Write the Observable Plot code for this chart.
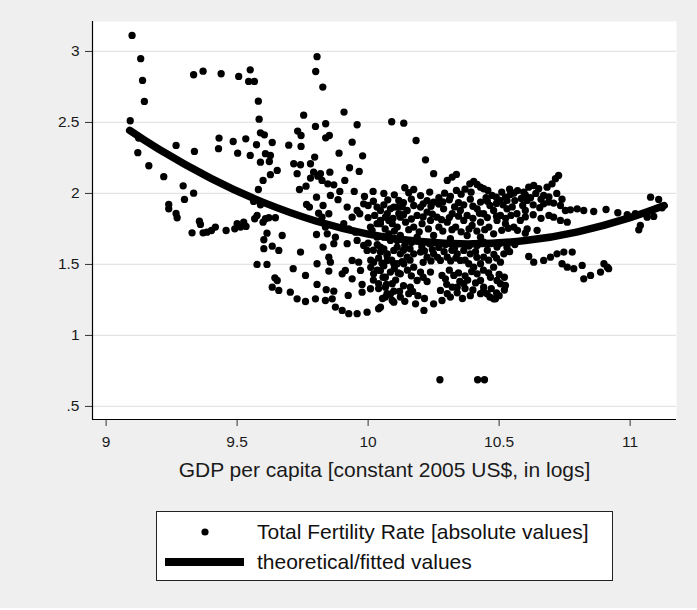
<!DOCTYPE html>
<html><head><meta charset="utf-8">
<script src="https://cdn.jsdelivr.net/npm/d3@7"></script>
<script src="https://cdn.jsdelivr.net/npm/@observablehq/plot@0.6"></script>
<style>
body{margin:0;background:#fff;}
#wrap{position:relative;width:697px;height:608px;background:#efefef;font-family:"Liberation Sans",Arial,sans-serif;color:#111;overflow:hidden;}
#chart{position:absolute;left:0;top:0;}
#legend{position:absolute;left:156px;top:511px;width:455px;height:68px;background:#fff;border:1px solid #222;}
.lrow{position:absolute;left:0;width:100%;height:30px;}
.ltext{position:absolute;left:100px;top:50%;transform:translateY(-52%);font-size:21px;white-space:nowrap;color:#111;}
</style></head>
<body><div id="wrap"><div id="chart"></div>
<div id="legend">
 <div class="lrow" style="top:5px"><svg width="100" height="30" style="position:absolute;left:0;top:0"><circle cx="48" cy="15" r="3.6" fill="#000"/></svg><span class="ltext" id="lab1"></span></div>
 <div class="lrow" style="top:35px"><svg width="100" height="30" style="position:absolute;left:0;top:0"><rect x="8" y="11" width="79" height="8" fill="#000"/></svg><span class="ltext" id="lab2"></span></div>
</div></div>
<script>
const seriesNames = ["Total Fertility Rate [absolute values]", "theoretical/fitted values"];
const xTitle = "GDP per capita [constant 2005 US$, in logs]";
const xTicks = [9, 9.5, 10, 10.5, 11];
const xTickLabels = ["9", "9.5", "10", "10.5", "11"];
const yTicks = [0.5, 1, 1.5, 2, 2.5, 3];
const yTickLabels = [".5", "1", "1.5", "2", "2.5", "3"];

const gdp = [
9.099,9.132,9.139,9.146,9.092,9.124,9.121,9.163,9.22,9.267,9.337,9.294,9.334,9.299,9.239,9.239,9.267,9.271,
9.334,9.37,9.439,9.506,9.55,9.544,9.566,9.581,9.584,9.589,9.604,9.634,9.574,9.55,9.608,9.627,9.623,9.589,9.627,9.653,9.599,9.581,9.563,9.589,
9.431,9.429,9.485,9.502,9.533,
9.356,9.36,9.328,9.37,9.385,9.402,9.417,9.458,9.491,9.5,9.513,9.525,9.534,9.567,9.576,9.599,9.608,9.621,9.646,9.614,9.602,9.602,9.634,9.659,9.576,9.614,9.644,9.653,9.634,9.659,
9.827,9.805,9.8,9.754,9.908,10.09,9.799,9.838,9.958,9.697,9.731,9.744,9.744,9.838,9.852,9.796,9.889,9.939,9.979,
9.716,9.742,9.78,9.729,9.792,9.808,9.818,9.78,9.854,9.824,9.846,9.763,9.738,9.869,9.892,9.856,9.803,9.911,9.929,9.966,9.947,9.986,10.019,9.885,
9.765,9.776,9.828,9.811,9.824,9.85,9.92,9.958,9.983,9.939,9.968,9.672,9.703,9.742,9.714,9.761,9.729,9.761,9.799,9.805,9.805,9.85,9.856,9.828,9.803,9.85,
9.84,9.869,9.837,9.863,9.901,9.913,9.939,9.977,9.924,9.875,9.901,9.926,9.958,9.996,10.04,9.939,9.964,9.971,10.021,10.053,9.977,10.009,10.021,10.057,10.092,10.098,10.066,10.092,
9.996,9.92,9.958,9.983,9.875,9.869,9.837,9.844,9.907,9.926,9.952,10.009,10.034,10.066,10.098,10.117,10.085,10.111,10.073,10.098,10.04,10.066,
10.136,10.183,10.219,10.25,10.302,10.321,10.337,10.14,10.174,10.174,10.2,10.21,10.292,10.314,10.337,10.388,10.403,10.416,10.429,10.441,10.457,10.473,10.489,10.502,10.393,
10.524,10.543,10.556,10.594,10.613,10.632,10.651,10.67,10.683,10.702,10.715,10.727,10.607,10.6,10.67,10.689,10.708,10.734,10.753,10.772,10.798,10.823,10.861,10.908,
10.953,10.989,11.02,11.078,11.109,11.122,11.09,11.065,11.039,11.033,10.708,10.734,10.76,
10.613,10.632,10.67,10.696,10.721,10.747,10.779,10.74,10.76,10.785,10.817,10.823,10.849,10.887,10.9,10.913,10.918,
10.486,10.505,10.524,10.492,10.467,10.416,10.429,10.441,10.454,10.518,10.505,10.479,10.213,10.25,10.282,10.314,10.34,10.365,10.276,10.302,10.321,10.295,10.327,10.282,
10.181,10.155,10.123,10.098,10.072,10.047,10.161,10.187,10.2,10.238,10.174,10.136,10.066,
10.352,10.384,10.403,10.429,10.441,10.39,10.365,10.34,10.302,10.276,10.25,10.225,10.2,10.174,10.149,10.123,10.098,10.072,10.047,
10.492,10.467,10.441,10.416,10.06,10.123,10.187,10.25,10.314,10.378,10.429,10.479,
10.047,10.079,10.111,10.143,10.174,10.206,10.238,10.27,10.302,10.334,10.365,10.397,10.429,10.461,10.492,10.524,10.556,10.581,
10.047,10.085,10.117,10.149,10.187,10.225,10.263,10.288,10.321,10.352,10.378,10.416,10.441,10.479,10.505,10.53,10.568,
10.25,10.429,10.53,10.047,10.085,10.123,
10.034,10.073,10.111,10.047,10.092,10.123,10.034,10.079,10.111,10.047,10.073,10.111,
10.274,10.418,10.444,10.429,10.479,10.607,10.645
];
const tfr = [
3.113,2.949,2.796,2.648,2.512,2.39,2.287,2.195,2.118,2.338,2.296,2.054,2.002,1.958,1.923,1.892,1.859,1.829,
2.836,2.861,2.843,2.824,2.871,2.789,2.789,2.65,2.523,2.427,2.413,2.359,2.343,2.268,2.28,2.268,2.225,2.22,2.132,2.162,2.092,2.028,1.944,1.92,
2.39,2.315,2.366,2.284,2.385,
1.805,1.782,1.723,1.723,1.727,1.739,1.763,1.739,1.751,1.787,1.763,1.798,1.768,1.822,1.845,1.798,1.822,1.829,1.829,1.72,1.674,1.611,1.629,1.599,1.5,1.5,1.406,1.387,1.34,1.317,
2.749,2.963,2.859,2.551,2.573,2.505,2.472,2.491,2.484,2.34,2.439,2.408,2.331,2.392,2.408,2.256,2.284,2.361,2.265,
2.209,2.202,2.209,2.139,2.15,2.122,2.139,2.108,2.15,2.092,2.068,2.051,2.028,2.061,2.014,1.986,1.974,2.092,2.181,2.155,2.014,1.979,2.014,1.956,
1.923,1.904,1.915,1.861,1.833,1.857,1.904,1.88,1.927,1.833,1.857,1.704,1.305,1.587,1.47,1.423,1.258,1.239,1.258,1.359,1.505,1.551,1.516,1.622,1.711,1.453,
1.322,1.312,1.246,1.258,1.434,1.458,1.399,1.359,1.282,1.2,1.176,1.153,1.153,1.164,1.188,1.528,1.516,1.458,1.516,1.509,1.305,1.329,1.434,1.41,1.364,1.312,1.27,1.246,
1.599,1.646,1.669,1.634,1.692,1.646,1.763,1.716,1.787,1.751,1.727,1.763,1.787,1.833,1.904,1.951,1.669,1.622,1.575,1.505,1.364,1.34,
2.495,2.373,2.237,2.139,2.092,2.115,2.134,2.04,2.028,1.915,1.904,1.927,2.002,1.979,2.021,2.068,2.085,2.063,2.044,2.033,2.021,1.986,1.974,1.951,2.009,
1.974,1.993,2.002,2.009,2.044,2.056,2.033,1.986,2.044,2.068,2.104,2.127,1.951,1.88,1.927,1.939,1.932,1.915,1.88,1.885,1.892,1.88,1.873,1.887,
1.864,1.85,1.857,1.974,1.958,1.899,1.838,1.833,1.775,1.744,1.833,1.81,1.798,
1.556,1.516,1.528,1.551,1.575,1.587,1.587,1.505,1.481,1.47,1.493,1.399,1.423,1.446,1.505,1.481,1.47,
1.258,1.364,1.352,1.387,1.41,1.434,1.387,1.34,1.294,1.575,1.516,1.481,1.176,1.223,1.246,1.27,1.34,1.364,1.317,1.294,1.34,1.399,1.423,1.423,
1.223,1.294,1.27,1.234,1.294,1.199,1.34,1.387,1.446,1.446,1.481,1.505,1.41,
1.528,1.505,1.481,1.505,1.551,1.575,1.599,1.575,1.551,1.528,1.575,1.551,1.587,1.575,1.551,1.575,1.599,1.563,1.587,
1.622,1.646,1.657,1.634,1.692,1.704,1.692,1.704,1.681,1.704,1.692,1.716,
1.787,1.81,1.763,1.798,1.763,1.787,1.81,1.763,1.798,1.763,1.81,1.775,1.798,1.763,1.81,1.787,1.763,1.81,
1.88,1.892,1.857,1.88,1.845,1.869,1.833,1.892,1.857,1.88,1.845,1.892,1.857,1.88,1.845,1.892,1.857,
1.939,1.939,1.951,1.458,1.446,1.434,
1.904,1.857,1.904,1.81,1.787,1.833,1.692,1.716,1.669,1.622,1.528,1.505,
0.688,0.688,0.688,1.294,1.258,1.75,1.74
];

// crowded core of the cloud, read row by row
const coreGdp = [
10.06,10.1,10.155,10.2,10.235,10.27,10.355,10.37,10.45,10.51,10.54,
10.02,10.075,10.135,10.165,10.225,10.285,10.31,10.345,10.39,10.455,10.49,10.56,10.585,
10.0,10.06,10.13,10.24,10.27,10.33,10.365,10.4,10.465,10.515,10.55,10.59,10.63,10.655,
10.0,10.025,10.095,10.135,10.165,10.21,10.245,10.28,10.31,10.345,10.4,10.425,10.455,10.49,10.525,10.545,10.6,10.63,10.66,10.69,
10.015,10.065,10.1,10.155,10.195,10.23,10.285,10.32,10.355,10.385,10.415,10.445,10.51,10.535,10.57,10.6,
10.0,10.035,10.14,10.165,10.205,10.235,10.27,10.295,10.33,10.385,10.5,10.53,10.56,
10.02,10.06,10.135,10.16,10.215,10.245,10.29,10.32,10.41,10.455,10.48,10.54,
10.01,10.04,10.09,10.13,10.16,10.21,10.24,10.265,10.315,10.335,10.37,10.415,10.46,10.49,
10.01,10.035,10.06,10.1,10.115,10.15,10.165,10.21,10.225,10.02,10.04,10.07,10.105,10.135,10.12,10.17,10.19,10.215,10.055,10.085,10.14,
10.31,10.345,10.37,10.395,10.44,10.46,10.5,10.52,10.38,10.41,10.35,10.37,10.4,10.44,10.47,10.49,10.52,10.5,10.465,10.3,10.34,10.36,10.39,
10.57,10.6,10.64,10.66,10.69,10.72,10.74,10.62
];
const coreTfr = [
2.0,1.99,2.005,1.985,2.01,1.97,1.995,2.03,1.97,2.01,2.03,
1.945,1.955,1.935,1.96,1.95,1.94,1.955,1.935,1.96,1.945,1.93,1.95,1.965,
1.915,1.92,1.905,1.91,1.925,1.905,1.92,1.91,1.915,1.92,1.905,1.915,1.92,1.9,
1.83,1.845,1.825,1.85,1.82,1.835,1.855,1.815,1.83,1.84,1.825,1.86,1.83,1.84,1.825,1.845,1.835,1.85,1.825,1.845,
1.74,1.75,1.735,1.745,1.73,1.75,1.735,1.745,1.73,1.75,1.735,1.745,1.74,1.755,1.74,1.72,
1.65,1.64,1.635,1.655,1.625,1.645,1.62,1.64,1.615,1.63,1.645,1.62,1.64,
1.6,1.61,1.6,1.61,1.595,1.605,1.59,1.6,1.59,1.6,1.57,1.59,
1.53,1.545,1.53,1.52,1.53,1.515,1.525,1.55,1.525,1.545,1.53,1.55,1.53,1.545,
1.48,1.46,1.49,1.47,1.44,1.46,1.42,1.41,1.38,1.39,1.33,1.36,1.39,1.35,1.31,1.31,1.28,1.26,1.26,1.29,1.24,
1.46,1.44,1.42,1.45,1.46,1.44,1.43,1.41,1.39,1.37,1.38,1.33,1.32,1.31,1.33,1.3,1.32,1.28,1.27,1.36,1.3,1.26,1.28,
2.02,1.99,2.0,1.96,1.975,2.0,1.96,1.97
];

// fitted (quadratic) curve
const fitX = [9.09, 9.2, 9.4, 9.6, 9.8, 10.0, 10.2, 10.4, 10.6, 10.8, 11.0, 11.13];
const fitY = [2.444, 2.313, 2.106, 1.937, 1.806, 1.714, 1.661, 1.645, 1.668, 1.73, 1.83, 1.915];

document.getElementById("lab1").textContent = seriesNames[0];
document.getElementById("lab2").textContent = seriesNames[1];

const pts = gdp.map((x, i) => ({x, y: tfr[i]})).concat(coreGdp.map((x, i) => ({x, y: coreTfr[i]})));
const fit = fitX.map((x, i) => ({x, y: fitY[i]}));
const xLab = new Map(xTicks.map((t, i) => [t, xTickLabels[i]]));
const yLab = new Map(yTicks.map((t, i) => [t, yTickLabels[i]]));
const xDom = [8.948, 11.177], yDom = [0.408, 3.211];

const chart = Plot.plot({
  width: 697, height: 500,
  marginLeft: 92, marginRight: 21, marginTop: 21, marginBottom: 81,
  style: {background: "transparent", fontFamily: "'Liberation Sans', Arial, sans-serif"},
  x: {domain: xDom, axis: null},
  y: {domain: yDom, axis: null},
  marks: [
    Plot.frame({fill: "white", stroke: "none"}),
    Plot.ruleY(yTicks, {stroke: "#e4e4e4", strokeWidth: 1.2}),
    Plot.axisX(xTicks, {tickSize: 7, tickPadding: 9, tickFormat: d => xLab.get(d), fontSize: 15.5, label: null, stroke: "#333", fill: "#1a1a1a"}),
    Plot.axisY(yTicks, {tickSize: 7, tickPadding: 6, tickFormat: d => yLab.get(d), fontSize: 15.5, label: null, stroke: "#333", fill: "#1a1a1a"}),
    Plot.ruleX([xDom[0]], {stroke: "#000", strokeWidth: 1.2}),
    Plot.ruleY([yDom[0]], {stroke: "#000", strokeWidth: 1.2}),
    Plot.dot(pts, {x: "x", y: "y", r: 3.65, fill: "#000", stroke: "none"}),
    Plot.line(fit, {x: "x", y: "y", curve: "natural", stroke: "#000", strokeWidth: 7.5}),
    Plot.text([xTitle], {frameAnchor: "bottom", dy: 57, fontSize: 21, fill: "#1a1a1a"})
  ]
});
document.getElementById("chart").appendChild(chart);
</script></body></html>
